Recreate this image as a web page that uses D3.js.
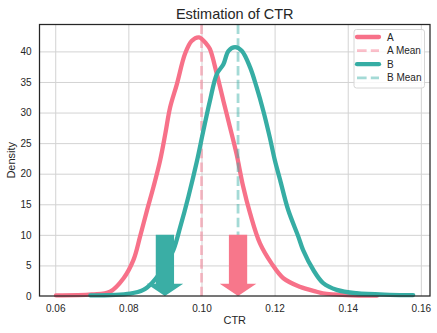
<!DOCTYPE html>
<html>
<head>
<meta charset="utf-8">
<script src="https://cdn.jsdelivr.net/npm/d3@7"></script>
<style>
  body { margin: 0; background: #fff; }
  text { font-family: "Liberation Sans", Arial, sans-serif; fill: #262626; }
</style>
</head>
<body>
<div id="chart"></div>
<script>
// density estimates
var ctrA = [0.0602, 0.0700, 0.0750, 0.0787, 0.0814, 0.0832, 0.0851, 0.0869, 0.0887, 0.0901, 0.0914, 0.0933, 0.0955, 0.0973, 0.0993, 0.1014, 0.1023, 0.1042, 0.1060, 0.1078, 0.1096, 0.1114, 0.1133, 0.1160, 0.1192, 0.1224, 0.1269, 0.1315, 0.1332, 0.1397, 0.1480];
var densA = [0.1, 0.25, 0.7, 2.9, 5.9, 9.7, 14, 17.9, 22.2, 26.5, 30.8, 34.7, 39.6, 41.7, 42.3, 41.2, 40.4, 36.3, 31.9, 27.6, 23.2, 17.9, 13.5, 8.6, 5.3, 2.9, 1.5, 0.7, 0.45, 0.15, 0.05];
var ctrB = [0.0696, 0.0805, 0.0841, 0.0864, 0.0887, 0.0905, 0.0923, 0.0942, 0.0964, 0.0987, 0.1005, 0.1023, 0.1042, 0.1060, 0.1074, 0.1092, 0.1110, 0.1133, 0.1151, 0.1169, 0.1187, 0.1201, 0.1215, 0.1237, 0.1265, 0.1278, 0.1306, 0.1333, 0.1370, 0.1424, 0.1515, 0.1579];
var densB = [0.1, 0.4, 1.0, 2.1, 3.8, 5.5, 7.5, 11.3, 16.2, 21.9, 27, 31.9, 36.3, 37.9, 40.1, 40.7, 40.1, 37.4, 34.1, 30.3, 25.9, 22.1, 19, 14.1, 9.7, 7.5, 4.25, 2.1, 1.0, 0.45, 0.2, 0.15];
var means = [0.10, 0.11];
var arrowX = [0.09, 0.11];
var arrowTop = 10, arrowLen = 8;
var xTicks = [0.06, 0.08, 0.10, 0.12, 0.14, 0.16];
var yTicks = [0, 5, 10, 15, 20, 25, 30, 35, 40];
var legendLabels = ["A", "A Mean", "B", "B Mean"];

var pink = "#f77189", teal = "#36ada4";
var W = 437, H = 333;
var m = { left: 39.5, top: 24.5, right: 7, bottom: 37 };
var iw = W - m.left - m.right, ih = H - m.top - m.bottom;

var svg = d3.select("#chart").append("svg").attr("width", W).attr("height", H);
var g = svg.append("g").attr("transform", "translate(" + m.left + "," + m.top + ")");

var x = d3.scaleLinear().domain([0.0557, 0.1625]).range([0, iw]);
var y = d3.scaleLinear().domain([0, 44.4]).range([ih, 0]);

// grid
g.append("g")
  .call(d3.axisBottom(x).tickValues(xTicks).tickSize(ih).tickFormat(""))
  .call(s => s.select(".domain").remove())
  .selectAll("line").attr("stroke", "#d3d3d3").attr("stroke-width", 1);
g.append("g")
  .call(d3.axisLeft(y).tickValues(yTicks.slice(1)).tickSize(-iw).tickFormat(""))
  .call(s => s.select(".domain").remove())
  .selectAll("line").attr("stroke", "#d3d3d3").attr("stroke-width", 1);

// tick labels
g.append("g")
  .attr("transform", "translate(0," + ih + ")")
  .call(d3.axisBottom(x).tickValues(xTicks).tickSize(0).tickPadding(9).tickFormat(d3.format(".2f")))
  .call(s => s.select(".domain").remove())
  .selectAll("text").style("font-size", "10px").attr("fill", "#262626");
g.append("g")
  .call(d3.axisLeft(y).tickValues(yTicks).tickSize(0).tickPadding(8))
  .call(s => s.select(".domain").remove())
  .selectAll("text").style("font-size", "10px").attr("fill", "#262626");

var line = d3.line()
  .x(d => x(d[0]))
  .y(d => y(d[1]))
  .curve(d3.curveCatmullRom.alpha(0.5));

var plot = g.append("g");

function drawSeries(xs, ds, color, mean) {
  plot.append("path")
    .datum(d3.zip(xs, ds))
    .attr("d", line)
    .attr("fill", "none")
    .attr("stroke", color)
    .attr("stroke-width", 4.3)
    .attr("stroke-linejoin", "round")
    .attr("stroke-linecap", "round");
  plot.append("line")
    .attr("x1", x(mean)).attr("x2", x(mean))
    .attr("y1", 0).attr("y2", ih)
    .attr("stroke", color)
    .attr("stroke-opacity", 0.45)
    .attr("stroke-width", 2.8)
    .attr("stroke-dasharray", "9.6,4.2");
}
drawSeries(ctrA, densA, pink, means[0]);
drawSeries(ctrB, densB, teal, means[1]);

// arrows (body width 0.005, head width 0.01, head length 2)
function drawArrow(cx, color) {
  var bw = 0.0025, hw = 0.005, hl = 2;
  var yb = arrowTop - arrowLen;
  var pts = [
    [cx - bw, arrowTop], [cx + bw, arrowTop], [cx + bw, yb], [cx + hw, yb],
    [cx, yb - hl], [cx - hw, yb], [cx - bw, yb]
  ];
  plot.append("path")
    .attr("d", "M" + pts.map(p => x(p[0]) + "," + y(p[1])).join("L") + "Z")
    .attr("fill", color);
}
drawArrow(arrowX[0], "#3aaea5");
drawArrow(arrowX[1], "#f7778b");

// frame
g.append("rect")
  .attr("width", iw).attr("height", ih)
  .attr("fill", "none").attr("stroke", "#262626").attr("stroke-width", 1.25);

// title and labels
svg.append("text")
  .attr("x", m.left + iw / 2).attr("y", 18.5)
  .attr("text-anchor", "middle")
  .style("font-size", "14.5px")
  .text("Estimation of CTR");
svg.append("text")
  .attr("x", m.left + iw / 2).attr("y", 323.5)
  .attr("text-anchor", "middle")
  .style("font-size", "11px")
  .text("CTR");
svg.append("text")
  .attr("transform", "translate(15," + (m.top + ih / 2) + ") rotate(-90)")
  .attr("text-anchor", "middle")
  .style("font-size", "11px")
  .text("Density");

// legend
var leg = svg.append("g").attr("transform", "translate(354,29.5)");
leg.append("rect")
  .attr("width", 70.5).attr("height", 58.5)
  .attr("rx", 2.5)
  .attr("fill", "#fff").attr("fill-opacity", 0.8)
  .attr("stroke", "#d6d6d6").attr("stroke-width", 1);
var legStyles = [
  { c: pink, w: 4.3, o: 1, dash: null },
  { c: pink, w: 2.8, o: 0.45, dash: "9.6,4.2" },
  { c: teal, w: 4.3, o: 1, dash: null },
  { c: teal, w: 2.8, o: 0.45, dash: "9.6,4.2" }
];
legendLabels.forEach(function(lbl, i) {
  var yy = 7.5 + i * 13.6;
  var st = legStyles[i];
  leg.append("line")
    .attr("x1", 3).attr("x2", 25)
    .attr("y1", yy).attr("y2", yy)
    .attr("stroke", st.c)
    .attr("stroke-opacity", st.o)
    .attr("stroke-width", st.w)
    .attr("stroke-linecap", st.dash ? "butt" : "round")
    .attr("stroke-dasharray", st.dash);
  leg.append("text")
    .attr("x", 33).attr("y", yy + 3.5)
    .style("font-size", "10px")
    .text(lbl);
});
</script>
</body>
</html>
